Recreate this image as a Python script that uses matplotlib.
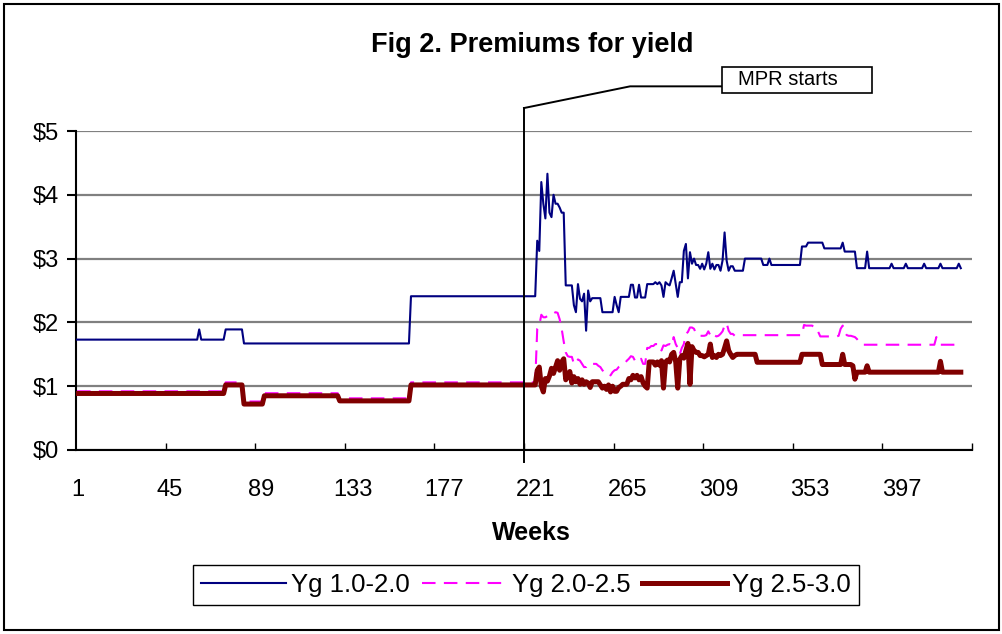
import numpy as np
import matplotlib.pyplot as plt
from matplotlib.patches import Rectangle

plt.rcParams['font.family'] = ['Liberation Sans', 'DejaVu Sans']

# premiums ($), one value per week
# flat stretches kept as (level, number of weeks)
blue_early_levels = [1.73, 1.89, 1.73, 1.89, 1.67, 2.41]
blue_early_runs = [60, 1, 12, 9, 82, 62]
blue_mpr = [3.28, 3.12, 4.2, 3.86, 3.63, 4.33, 3.72, 3.65, 4.0, 3.86, 3.86, 3.8, 3.72, 3.72,
            2.58, 2.58, 2.58, 2.58, 2.27, 2.16, 2.6, 2.37, 2.33, 2.45, 1.87, 2.5, 2.33,
            2.38, 2.38, 2.38, 2.38, 2.38, 2.16, 2.16, 2.16, 2.16, 2.16, 2.16,
            2.4, 2.27, 2.16, 2.4, 2.4, 2.4, 2.4, 2.4, 2.59, 2.59, 2.39, 2.39, 2.59, 2.39, 2.39, 2.39,
            2.6, 2.6, 2.6, 2.6, 2.63, 2.6, 2.63, 2.58, 2.4, 2.63, 2.6, 2.58, 2.69, 2.81, 2.6, 2.4, 2.63, 2.63,
            3.12, 3.23, 2.69, 3.1, 2.92, 3.0, 2.9, 2.9, 2.84, 2.92, 2.83, 2.92, 3.1, 2.84, 2.92, 2.83,
            2.9, 2.9, 2.81, 2.97, 3.41, 2.97, 2.81, 2.88, 2.88, 2.81, 2.81, 2.81, 2.81, 2.81]
blue_late_levels = [3.0, 2.9, 3.0, 2.9, 3.19, 3.25, 3.16, 3.25, 3.11, 2.85, 3.11, 2.85, 2.92, 2.85,
                    2.92, 2.85, 2.92, 2.85, 2.92, 2.85, 2.92, 2.85]
blue_late_runs = [9, 3, 1, 15, 3, 8, 9, 1, 6, 5, 1, 11, 1, 6, 1, 8, 1, 7, 1, 8, 1, 1]

pink_early_levels = [0.92, 1.06, 0.76, 0.89, 0.81, 1.06]
pink_early_runs = [73, 9, 10, 37, 35, 62]
pink_mpr = [1.9, 1.95, 2.12, 2.08, 2.08, 2.1, 2.1, 2.13, 2.14, 2.16, 2.15, 2.05, 1.9, 1.7,
            1.53, 1.47, 1.46, 1.46, 1.35, 1.35, 1.42, 1.4, 1.35, 1.3, 1.3, 1.35, 1.35,
            1.35, 1.35, 1.35, 1.32, 1.3, 1.25, 1.22, 1.22, 1.22, 1.17, 1.22,
            1.25, 1.26, 1.3, 1.32, 1.34, 1.36, 1.4, 1.43, 1.47, 1.46, 1.4, 1.4, 1.38, 1.43, 1.35, 1.35,
            1.6, 1.6, 1.63, 1.63, 1.66, 1.66, 1.66, 1.56, 1.64, 1.63, 1.65, 1.66, 1.63, 1.77, 1.66, 1.6, 1.5, 1.6,
            1.66, 1.82, 1.85, 1.92, 1.92, 1.9, 1.82, 1.79, 1.79, 1.79, 1.79, 1.8, 1.86, 1.8, 1.84, 1.8,
            1.78, 1.79, 1.82, 1.86, 1.95, 1.99, 1.87, 1.82, 1.82, 1.79, 1.8, 1.8, 1.8, 1.8]
pink_late_levels = [1.8, 1.96, 1.95, 1.92, 1.85, 1.78, 1.79, 1.9, 1.95, 1.85, 1.8, 1.79, 1.78, 1.77,
                    1.74, 1.7, 1.66, 1.65, 1.77, 1.72, 1.65]
pink_late_runs = [29, 1, 4, 2, 1, 9, 1, 1, 1, 1, 1, 2, 1, 1, 1, 1, 1, 36, 1, 1, 11]

red_early_levels = [0.886, 1.02, 0.72, 0.85, 0.77, 1.02]
red_early_runs = [73, 9, 10, 37, 35, 62]
red_mpr = [1.25, 1.3, 1.0, 0.91, 1.12, 1.08, 1.16, 1.28, 1.2, 1.3, 1.4, 1.25, 1.38, 1.43,
           1.1, 1.15, 1.23, 1.05, 1.15, 1.07, 1.12, 1.03, 1.1, 1.03, 1.07, 1.05, 0.98,
           1.07, 1.07, 1.07, 1.07, 1.02, 0.97, 1.0, 0.95, 1.02, 0.91, 1.0,
           0.92, 0.92, 0.98, 1.0, 1.03, 1.03, 1.03, 1.12, 1.1, 1.17, 1.13, 1.17, 1.1, 1.15, 1.05, 1.0,
           0.97, 1.38, 1.38, 1.38, 1.33, 1.38, 1.33, 1.4, 0.97, 1.38, 1.41, 1.38, 1.5, 1.53, 1.38, 0.97, 1.42, 1.48,
           1.44, 1.56, 1.67, 1.03, 1.62, 1.56, 1.53, 1.53, 1.48, 1.48, 1.46, 1.48, 1.5, 1.66, 1.45, 1.48,
           1.45, 1.5, 1.48, 1.5, 1.6, 1.71, 1.56, 1.5, 1.45, 1.48, 1.5, 1.5, 1.5, 1.5]
red_late_levels = [1.5, 1.375, 1.5, 1.34, 1.5, 1.34, 1.32, 1.11, 1.22, 1.32, 1.22, 1.39, 1.22]
red_late_runs = [6, 22, 10, 10, 1, 4, 1, 1, 5, 1, 35, 1, 10]

series_names = ['Yg 1.0-2.0', 'Yg 2.0-2.5', 'Yg 2.5-3.0']
ytick_vals = [0, 1, 2, 3, 4, 5]
ytick_labels = ['$0', '$1', '$2', '$3', '$4', '$5']
xtick_labels = ['1', '45', '89', '133', '177', '221', '265', '309', '353', '397']
n_categories = 440
mpr_week = 220.5


def build(early_lv, early_n, mpr, late_lv, late_n):
    return np.concatenate([np.repeat(early_lv, early_n), mpr, np.repeat(late_lv, late_n)])


blue = build(blue_early_levels, blue_early_runs, blue_mpr, blue_late_levels, blue_late_runs)
pink = build(pink_early_levels, pink_early_runs, pink_mpr, pink_late_levels, pink_late_runs)
red = build(red_early_levels, red_early_runs, red_mpr, red_late_levels, red_late_runs)
weeks = np.arange(1, len(blue) + 1)

fig = plt.figure(figsize=(10.03, 6.34), dpi=100)
ax = fig.add_axes([76 / 1003, 184 / 634, 896 / 1003, 319 / 634])

l1, = ax.plot(weeks, blue, color='#000080', lw=1.5, zorder=3)
l2, = ax.plot(weeks, pink, color='#FF00FF', lw=1.5, dashes=(6.5, 4), zorder=3)
l3, = ax.plot(weeks, red, color='#800000', lw=3.6, zorder=4)

ax.set_xlim(0.5, n_categories + 0.5)
ax.set_ylim(0, 5)
ax.set_yticks(ytick_vals)
ax.set_yticklabels(ytick_labels)
ax.yaxis.grid(True, color='#808080', lw=1.6)
ax.set_axisbelow(True)

# tick marks between categories every 44 weeks, labels as placed by the source chart
ax.set_xticks(np.arange(44.5, n_categories + 1, 44))
ax.set_xticks(np.linspace(1.5, 406, len(xtick_labels)), minor=True)
ax.set_xticklabels(xtick_labels, minor=True)
ax.tick_params(axis='x', which='major', direction='in', length=5, width=1, labelbottom=False)
ax.tick_params(axis='x', which='minor', length=0, pad=21, labelsize=17)
ax.tick_params(axis='y', direction='out', length=6.5, width=1.5, pad=6, labelsize=17)

for s in ['top', 'right']:
    ax.spines[s].set_visible(False)
for s in ['left', 'bottom']:
    ax.spines[s].set_linewidth(1.5)
    ax.spines[s].set_color('black')

# MPR start marker with callout
ax.plot([mpr_week, mpr_week], [-0.19, 5.36], color='black', lw=1.4, clip_on=False, zorder=6)
ax.plot([mpr_week, 272.6, 317.8], [5.36, 5.70, 5.70], color='black', lw=1.4, clip_on=False, zorder=6)
ax.add_patch(Rectangle((317.8, 5.60), 73.7, 0.41, facecolor='white', edgecolor='black',
                       lw=1.2, clip_on=False, zorder=6))
ax.text(325.5, 5.80, 'MPR starts', fontsize=14.5, va='center', ha='left', zorder=7)

fig.text(532 / 1003, 1 - 45 / 634, 'Fig 2. Premiums for yield', fontsize=19.5,
         fontweight='bold', ha='center', va='center')
fig.text(531 / 1003, 1 - 533 / 634, 'Weeks', fontsize=18, fontweight='bold',
         ha='center', va='center')

leg = fig.legend([l1, l2, l3], series_names, loc='center',
                 bbox_to_anchor=(526 / 1003, 1 - 585 / 634), ncol=3, fontsize=18.5,
                 frameon=True, fancybox=False, edgecolor='black', framealpha=1,
                 handlelength=3.3, handletextpad=0.2, columnspacing=0.45,
                 borderpad=0.32, borderaxespad=0)
leg.get_frame().set_linewidth(1)

fig.patches.append(Rectangle((4 / 1003, 4 / 634), 995 / 1003, 626 / 634,
                             transform=fig.transFigure, fill=False,
                             edgecolor='black', lw=1.5))

fig.savefig('out.png', dpi=100)
